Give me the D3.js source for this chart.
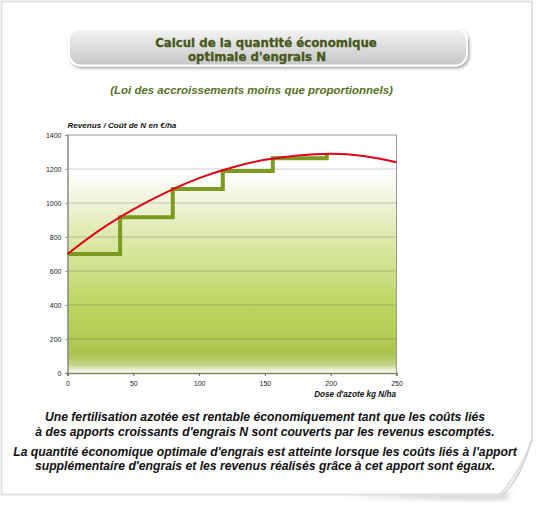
<!DOCTYPE html>
<html><head><meta charset="utf-8">
<script src="https://cdn.jsdelivr.net/npm/d3@7"></script>
<style>body{margin:0;background:#fff}svg{display:block}</style>
</head><body>
<svg id="c" width="546" height="517"></svg>
<script>
// ---- data ----
const xTicks = [0, 50, 100, 150, 200, 250];
const yTicks = [0, 200, 400, 600, 800, 1000, 1200, 1400];
const revenueDose = [0, 25, 50, 75, 100, 125, 150, 175, 200, 225, 250];
const revenueValue = [700, 843, 962, 1063, 1146, 1209, 1254, 1280, 1289, 1277, 1240];
const stepDose = [0, 40, 80, 118, 156, 197];
const stepValue = [700, 916, 1082, 1188, 1263, 1289];
const titleLines = ["Calcul de la quantité économique", "optimale d'engrais N"];
const subtitle = "(Loi des accroissements moins que proportionnels)";
const yTitle = "Revenus / Coût de N en €/ha";
const xTitle = "Dose d'azote kg N/ha";
const noteLines = [
  "Une fertilisation azotée est rentable économiquement tant que les coûts liés",
  "à des apports croissants d'engrais N sont couverts par les revenus escomptés.",
  "La quantité économique optimale d'engrais est atteinte lorsque les coûts liés à l'apport",
  "supplémentaire d'engrais et les revenus réalisés grâce à cet apport sont égaux."
];

const svg = d3.select("#c");
const defs = svg.append("defs");

function fit(sel, w) {
  const l = sel.node().getComputedTextLength();
  const fs = parseFloat(sel.attr("font-size"));
  sel.attr("font-size", fs * w / l);
  return fs * w / l;
}

// ---- card with curled corner ----
const sh = defs.append("filter").attr("id", "blur").attr("x", "-20%").attr("y", "-50%").attr("width", "140%").attr("height", "200%");
sh.append("feGaussianBlur").attr("stdDeviation", 3);
svg.append("path").attr("d", "M340,494 Q430,500 505,499 L512,494 Z")
  .attr("fill", "#999").attr("opacity", 0.6).attr("filter", "url(#blur)");
svg.append("path")
  .attr("d", "M1.5,1.5 H532 V440 Q520,472 500,494.5 H1.5 Z")
  .attr("fill", "#fff").attr("stroke", "#e0e0e0").attr("stroke-width", 2);
const flapG = defs.append("linearGradient").attr("id", "flap").attr("x1", 0).attr("y1", 0).attr("x2", 1).attr("y2", 1);
flapG.append("stop").attr("offset", 0).attr("stop-color", "#ffffff");
flapG.append("stop").attr("offset", 0.6).attr("stop-color", "#f2f2f2");
flapG.append("stop").attr("offset", 1).attr("stop-color", "#c9c9c9");
svg.append("path")
  .attr("d", "M532,440 Q522,474 502,496 Q520,482 532,440 Z")
  .attr("fill", "url(#flap)").attr("stroke", "#d0d0d0").attr("stroke-width", 1);

// ---- title box ----
const tb = defs.append("linearGradient").attr("id", "tb").attr("x1", 0).attr("y1", 0).attr("x2", 0).attr("y2", 1);
tb.append("stop").attr("offset", 0).attr("stop-color", "#f4f4f4");
tb.append("stop").attr("offset", 1).attr("stop-color", "#c6c6c6");
const ds = defs.append("filter").attr("id", "ds").attr("x", "-10%").attr("y", "-30%").attr("width", "120%").attr("height", "170%");
ds.append("feDropShadow").attr("dx", 1.5).attr("dy", 2).attr("stdDeviation", 1.5).attr("flood-color", "#000").attr("flood-opacity", 0.35);
svg.append("rect").attr("x", 69).attr("y", 28.5).attr("width", 398).attr("height", 37).attr("rx", 12)
  .attr("fill", "url(#tb)").attr("stroke", "#fff").attr("stroke-width", 2).attr("filter", "url(#ds)");
const t1 = svg.append("text").attr("x", 266).attr("y", 47).attr("text-anchor", "middle")
  .attr("font-family", "DejaVu Sans").attr("font-weight", "bold").attr("font-size", 12)
  .attr("fill", "#46581a").attr("stroke", "#46581a").attr("stroke-width", 0.3).text(titleLines[0]);
const tfs = fit(t1, 222);
svg.append("text").attr("x", 257).attr("y", 60.5).attr("text-anchor", "middle")
  .attr("font-family", "DejaVu Sans").attr("font-weight", "bold").attr("font-size", tfs)
  .attr("fill", "#46581a").attr("stroke", "#46581a").attr("stroke-width", 0.3).text(titleLines[1]);

const st = svg.append("text").attr("x", 251.5).attr("y", 94).attr("text-anchor", "middle")
  .attr("font-family", "Liberation Sans").attr("font-weight", "bold").attr("font-style", "italic")
  .attr("font-size", 11).attr("fill", "#55701f").text(subtitle);
fit(st, 283);

// ---- chart ----
const x = d3.scaleLinear().domain([0, 250]).range([67.5, 396.5]);
const y = d3.scaleLinear().domain([0, 1400]).range([373, 135]);

const bg = defs.append("linearGradient").attr("id", "bg").attr("x1", 0).attr("y1", 0).attr("x2", 0).attr("y2", 1);
[[0, "#ffffff"], [0.15, "#ffffff"], [0.29, "#eef3d8"], [0.43, "#dde9ab"], [0.57, "#cde088"],
 [0.71, "#bdd663"], [0.84, "#b3cd54"], [0.92, "#aac350"], [0.965, "#c2d484"], [1, "#ffffff"]]
  .forEach(([o, c]) => bg.append("stop").attr("offset", o).attr("stop-color", c));
svg.append("rect").attr("x", x(0)).attr("y", y(1400)).attr("width", x(250) - x(0)).attr("height", y(0) - y(1400))
  .attr("fill", "url(#bg)");

// gridlines
svg.append("g").selectAll("line").data(yTicks.filter(d => d > 0 && d < 1400)).join("line")
  .attr("x1", x(0)).attr("x2", x(250)).attr("y1", d => y(d)).attr("y2", d => y(d))
  .attr("stroke", "rgba(90,90,90,0.2)").attr("stroke-width", 1.5);
svg.append("line").attr("x1", x(0)).attr("x2", x(250)).attr("y1", y(1400)).attr("y2", y(1400))
  .attr("stroke", "#bbb").attr("stroke-width", 1.5);
svg.append("line").attr("x1", x(250)).attr("x2", x(250)).attr("y1", y(1400)).attr("y2", y(0))
  .attr("stroke", "#999").attr("stroke-width", 1);

// y axis
const ya = svg.append("g").attr("transform", `translate(${x(0)},0)`)
  .call(d3.axisLeft(y).tickValues(yTicks).tickFormat(d3.format("d")).tickSize(2).tickPadding(4));
ya.select(".domain").attr("stroke", "#8c8c8c").attr("stroke-width", 1.5);
ya.selectAll(".tick line").attr("stroke", "#888");
ya.selectAll("text").attr("font-family", "Liberation Sans").attr("font-size", 7).attr("fill", "#222");

// x axis
const xa = svg.append("g").attr("transform", `translate(0,${y(0)})`)
  .call(d3.axisBottom(x).tickValues(xTicks).tickFormat(d3.format("d")).tickSize(3).tickPadding(5));
xa.select(".domain").attr("stroke", "#7d8a5a").attr("stroke-width", 1.5);
xa.selectAll(".tick line").attr("stroke", "#666");
xa.selectAll("text").attr("font-family", "Liberation Sans").attr("font-size", 7).attr("fill", "#222");

// step (cost) line
const stepPts = stepDose.map((d, i) => [d, stepValue[i]]);
svg.append("path").datum(stepPts)
  .attr("d", d3.line().x(d => x(d[0])).y(d => y(d[1])).curve(d3.curveStepAfter))
  .attr("fill", "none").attr("stroke", "#7b9a1f").attr("stroke-width", 4).attr("stroke-linejoin", "miter");

// revenue curve
const revPts = revenueDose.map((d, i) => [d, revenueValue[i]]);
svg.append("path").datum(revPts)
  .attr("d", d3.line().x(d => x(d[0])).y(d => y(d[1])).curve(d3.curveMonotoneX))
  .attr("fill", "none").attr("stroke", "#e2001a").attr("stroke-width", 2);

// axis titles
const yt = svg.append("text").attr("x", 67.5).attr("y", 127.5)
  .attr("font-family", "Liberation Sans").attr("font-weight", "bold").attr("font-style", "italic")
  .attr("font-size", 7.5).attr("fill", "#111").text(yTitle);
fit(yt, 109);
const xt = svg.append("text").attr("x", 396).attr("y", 397).attr("text-anchor", "end")
  .attr("font-family", "Liberation Sans").attr("font-weight", "bold").attr("font-style", "italic")
  .attr("font-size", 7.5).attr("fill", "#111").text(xTitle);
fit(xt, 82);

// notes
const noteY = [421, 435.5, 456, 470];
const notes = svg.append("g").selectAll("text").data(noteLines).join("text")
  .attr("x", 265).attr("y", (d, i) => noteY[i]).attr("text-anchor", "middle")
  .attr("font-family", "Liberation Sans").attr("font-weight", "bold").attr("font-style", "italic")
  .attr("font-size", 11).attr("fill", "#111").text(d => d);
const nfs = fit(d3.select(notes.nodes()[2]), 504);
notes.attr("font-size", nfs);
</script>
</body></html>
